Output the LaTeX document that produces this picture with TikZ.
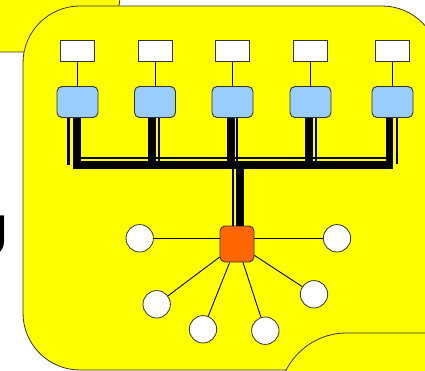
\documentclass[tikz,border=0pt]{standalone}
\usepackage{fontspec}
\setmainfont{Liberation Sans}
\definecolor{panelyellow}{HTML}{FFFF00}
\definecolor{stationblue}{HTML}{99CCFF}
\definecolor{huborange}{HTML}{FF6600}
\definecolor{edge}{HTML}{333333}
\begin{document}
\begin{tikzpicture}[x=1pt,y=-1pt,
  panel/.style={draw=edge, fill=panelyellow, line width=0.8pt, rounded corners=57pt},
  tag/.style={draw=edge, fill=white, line width=0.8pt, minimum width=34pt, minimum height=21pt, inner sep=0pt},
  station/.style={draw=edge, fill=stationblue, line width=0.9pt, rounded corners=5pt, minimum width=41pt, minimum height=31pt, inner sep=0pt},
  hubbox/.style={draw=edge, fill=huborange, line width=0.9pt, rounded corners=5pt, minimum width=34pt, minimum height=36pt, inner sep=0pt},
  leaf/.style={circle, draw=edge, fill=white, line width=0.8pt, minimum size=27.4pt, inner sep=0pt},
  wire/.style={draw=black, line width=0.9pt},
  heavy/.style={draw=black, line width=7.5pt},
  light/.style={draw=black, line width=2.2pt},
]
\useasboundingbox (0,0) rectangle (425,371);
\clip (0,0) rectangle (425,371);

% large letter on the left margin
\node[anchor=base east, inner sep=0pt, font=\fontsize{59}{59}\selectfont] (letter) at (9.5,256) {U};

% yellow panels
\path[panel] (-100,-100) rectangle (120,52);
\path[panel] (23,6) rectangle (439,370);
\path[panel, rounded corners=68pt] (278.7,333) rectangle (520,460);

% label boxes and stations
\foreach \i/\x in {1/77.5, 2/155, 3/232.5, 4/310.5, 5/392.5} {
  \node[tag] (w\i) at (\x,51.3) {};
  \node[station] (b\i) at (\x,102) {};
  \draw[wire] (w\i) -- (b\i);
}

% hub and leaves
\node[hubbox] (hub) at (237,244) {};
\node[leaf] (c1) at (139.7,238.3) {};
\node[leaf] (c2) at (337,238.3) {};
\node[leaf] (c3) at (156.7,304.3) {};
\node[leaf] (c4) at (203,329.3) {};
\node[leaf] (c5) at (265.3,330.7) {};
\node[leaf] (c6) at (314,294.3) {};

\draw[wire] (c1) -- (c1 -| hub.west);
\draw[wire] (c2) -- (c2 -| hub.east);
\draw[wire] (hub) -- (c3);
\draw[wire] (hub) -- (c4);
\draw[wire] (hub) -- (c5);
\draw[wire] (hub) -- (c6);

% bus levels
\coordinate (rail) at (0,157.7);
\coordinate (trunk) at (0,165);

% thin rails
\draw[light] ([xshift=-9pt]b1.south) -- ([xshift=-9pt]b1.south |- 0,165);
\draw[light] ([xshift=3.7pt]b2.south) -- ([xshift=3.7pt]b2.south |- 0,162);
\draw[light] ([xshift=4.2pt]b3.south) -- ([xshift=4.2pt]b3.south |- 0,162);
\draw[light] ([xshift=5.7pt]b4.south) -- ([xshift=5.7pt]b4.south |- 0,162);
\draw[light] ([xshift=4.7pt]b5.south) -- ([xshift=4.7pt]b5.south |- 0,164);
\draw[light] ([xshift=-0.5pt]b1.south |- rail) -- ([xshift=-2.8pt]b5.south |- rail);
\draw[light] ([xshift=-4.3pt]hub.north |- rail) -- ([xshift=-4.3pt]hub.north);

% heavy trunk
\draw[heavy] ([xshift=-0.5pt]b1.south) -- ([xshift=-0.5pt]b1.south |- trunk)
  -- ([xshift=-2.8pt]b5.south |- trunk) -- ([xshift=-2.8pt]b5.south);
\draw[heavy] ([xshift=-3pt]b2.south) -- ([xshift=-3pt]b2.south |- trunk);
\draw[heavy] ([xshift=-1.7pt]b3.south) -- ([xshift=-1.7pt]b3.south |- trunk);
\draw[heavy] ([xshift=-1.3pt]b4.south) -- ([xshift=-1.3pt]b4.south |- trunk);
\draw[heavy, line width=8pt] ([xshift=2.7pt]hub.north |- trunk) -- ([xshift=2.7pt]hub.north);
\end{tikzpicture}
\end{document}
